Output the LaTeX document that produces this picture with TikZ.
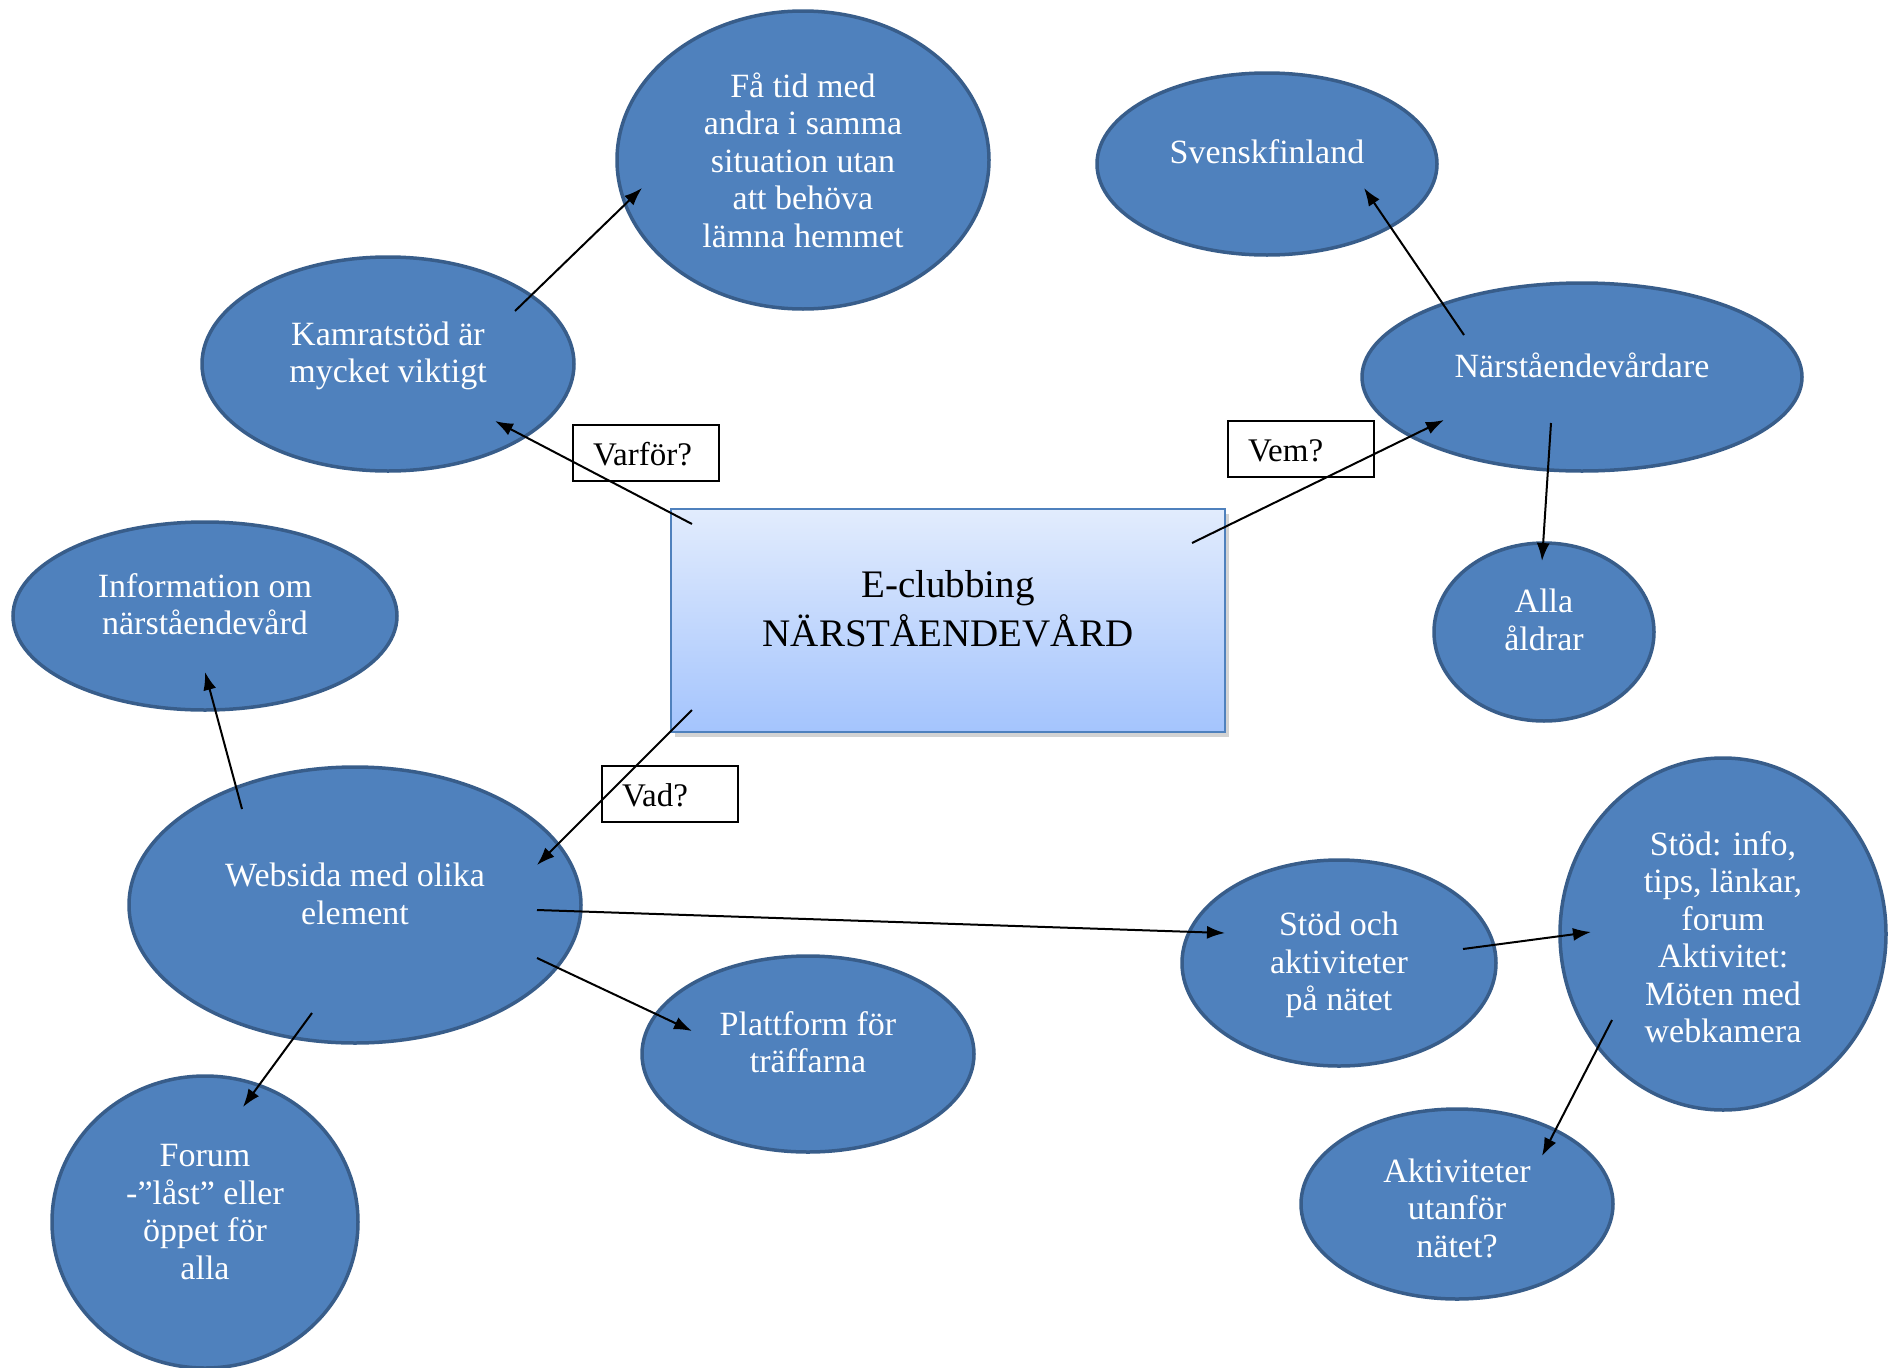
\documentclass[tikz,border=0pt]{standalone}
\usepackage{fontspec}
\setmainfont{Liberation Serif}
\usetikzlibrary{shapes.geometric,arrows.meta,shadows}
\definecolor{bfill}{RGB}{79,129,189}
\definecolor{bdraw}{RGB}{56,93,138}
\definecolor{gtop}{RGB}{226,236,253}
\definecolor{gbot}{RGB}{164,196,253}
\begin{document}
\begin{tikzpicture}[x=1pt,y=-1pt,
 bubble/.style={ellipse, fill=bfill, draw=bdraw, line width=3.5pt, inner sep=0pt},
 btext/.style={text=white, align=center, font=\fontsize{34}{37.5}\selectfont, inner sep=0pt},
 qlabel/.style={draw=black, line width=2pt, fill=white, align=left, inner xsep=20pt, inner ysep=0pt, text height=25pt, text depth=0pt, minimum height=56pt, font=\fontsize{33}{37.5}\selectfont},
 centerbox/.style={rectangle, draw=bfill, line width=2pt, top color=gtop, bottom color=gbot, drop shadow={opacity=0.35, shadow xshift=4pt, shadow yshift=-5pt}},
 conn/.style={line width=2pt, -{Latex[length=18pt,width=13pt]}}]
\useasboundingbox (0,0) rectangle (1888,1368);

% bubbles
\node[bubble, minimum width=372, minimum height=298] (A) at (803,160) {};
\node[btext] at ([yshift=0pt]A.center) {Få tid med\\andra i samma\\situation utan\\att behöva\\lämna hemmet};
\node[bubble, minimum width=372, minimum height=214] (B) at (388,364) {};
\node[btext] at ([yshift=8pt]B.center) {Kamratstöd är\\mycket viktigt};
\node[bubble, minimum width=340, minimum height=182] (C) at (1267,164) {};
\node[btext] at ([yshift=12pt]C.center) {Svenskfinland};
\node[bubble, minimum width=440, minimum height=188] (D) at (1582,377) {};
\node[btext] at ([yshift=12pt]D.center) {Närståendevårdare};
\node[bubble, minimum width=220, minimum height=178] (E) at (1544,632) {};
\node[btext] at ([yshift=12pt]E.center) {Alla\\åldrar};
\node[bubble, minimum width=384, minimum height=188] (F) at (205,616) {};
\node[btext] at ([yshift=12pt]F.center) {Information om\\närståendevård};
\node[bubble, minimum width=452, minimum height=276] (G) at (355,905) {};
\node[btext] at ([yshift=11pt]G.center) {Websida med olika\\element};
\node[bubble, minimum width=332, minimum height=196] (H) at (808,1054) {};
\node[btext] at ([yshift=12pt]H.center) {Plattform för\\träffarna};
\node[bubble, minimum width=306, minimum height=292] (I) at (205,1222) {};
\node[btext] at ([yshift=10pt]I.center) {Forum\\-”låst” eller\\öppet för\\alla};
\node[bubble, minimum width=314, minimum height=206] (J) at (1339,963) {};
\node[btext] at ([yshift=-2pt]J.center) {Stöd och\\aktiviteter\\på nätet};
\node[bubble, minimum width=326, minimum height=352] (K) at (1723,934) {};
\node[btext] at ([yshift=-3pt]K.center) {Stöd: info,\\tips, länkar,\\forum\\Aktivitet:\\Möten med\\webkamera};
\node[bubble, minimum width=312, minimum height=190] (L) at (1457,1204) {};
\node[btext] at ([yshift=-4pt]L.center) {Aktiviteter\\utanför\\nätet?};

% central box
\node[centerbox, minimum width=554, minimum height=223] (M) at (948,620) {};
\node[align=center, inner sep=0pt, font=\fontsize{39}{49}\selectfont] at ([yshift=11pt]M.center) {E-clubbing\\NÄRSTÅENDEVÅRD};

% question labels
\node[qlabel, text width=106pt] (q1) at (646,453) {Varför?};
\node[qlabel, text width=106pt] (q2) at (1301,449) {Vem?};
\node[qlabel, text width=96pt] (q3) at (670,794) {Vad?};

% connector end points
\coordinate (M-nw) at (692,524);
\coordinate (B-in) at (495,421);
\coordinate (B-out) at (515,311);
\coordinate (A-in) at (642,188);
\coordinate (M-ne) at (1192,543);
\coordinate (D-in) at (1444,420);
\coordinate (D-out1) at (1464,335);
\coordinate (C-in) at (1364,188);
\coordinate (D-out2) at (1551,423);
\coordinate (E-in) at (1542,561);
\coordinate (M-sw) at (692,710);
\coordinate (G-in) at (537,865);
\coordinate (G-out1) at (242,809);
\coordinate (F-in) at (205,672);
\coordinate (G-out2) at (537,910);
\coordinate (J-in) at (1225,933);
\coordinate (G-out3) at (537,958);
\coordinate (H-in) at (692,1031);
\coordinate (G-out4) at (312,1013);
\coordinate (I-in) at (243,1107);
\coordinate (J-out) at (1463,949);
\coordinate (K-in) at (1591,932);
\coordinate (K-out) at (1612,1020);
\coordinate (L-in) at (1542,1156);

% connectors
\draw[conn] (M-nw) -- (B-in);
\draw[conn] (B-out) -- (A-in);
\draw[conn] (M-ne) -- (D-in);
\draw[conn] (D-out1) -- (C-in);
\draw[conn] (D-out2) -- (E-in);
\draw[conn] (M-sw) -- (G-in);
\draw[conn] (G-out1) -- (F-in);
\draw[conn] (G-out2) -- (J-in);
\draw[conn] (G-out3) -- (H-in);
\draw[conn] (G-out4) -- (I-in);
\draw[conn] (J-out) -- (K-in);
\draw[conn] (K-out) -- (L-in);
\end{tikzpicture}
\end{document}
